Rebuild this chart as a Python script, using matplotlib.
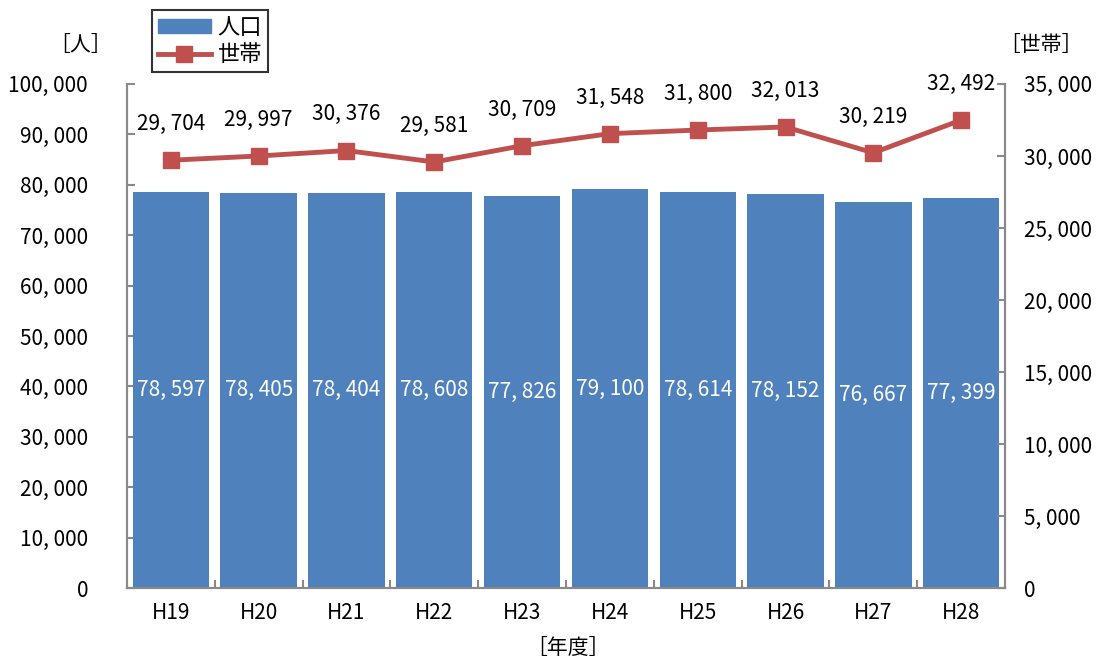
import matplotlib
matplotlib.use("Agg")
import matplotlib.pyplot as plt
from matplotlib.lines import Line2D
from matplotlib.patches import Patch

plt.rcParams["font.family"] = ["Noto Sans CJK JP", "DejaVu Sans"]

# 年度別 人口・世帯数
YEARS      = ["H19", "H20", "H21", "H22", "H23", "H24", "H25", "H26", "H27", "H28"]
POPULATION = [78597, 78405, 78404, 78608, 77826, 79100, 78614, 78152, 76667, 77399]
HOUSEHOLDS = [29704, 29997, 30376, 29581, 30709, 31548, 31800, 32013, 30219, 32492]

BAR_COLOR  = "#4F81BD"
LINE_COLOR = "#C0504D"
AXIS_COLOR = "#898989"
FS = 15


def fmt(v):
    return f"{v:,}".replace(",", ", ")


fig = plt.figure(figsize=(11.02, 6.61), dpi=100)
ax = fig.add_axes([0.1152, 0.1104, 0.7968, 0.7626])
ax2 = ax.twinx()

x = range(len(YEARS))
bars = ax.bar(x, POPULATION, width=0.87, color=BAR_COLOR, zorder=2)
for xi, v in zip(x, POPULATION):
    ax.text(xi, v / 2, fmt(v), ha="center", va="center",
            color="white", fontsize=FS)

ax2.plot(x, HOUSEHOLDS, color=LINE_COLOR, lw=3.5, marker="s",
         markersize=12, zorder=3)
for xi, v in zip(x, HOUSEHOLDS):
    ax2.text(xi, v + 1750, fmt(v), ha="center", va="bottom", fontsize=FS)

ax.set_xlim(-0.5, len(YEARS) - 0.5)
ax.set_ylim(0, 100000)
ax2.set_ylim(0, 35000)
ax.set_yticks(range(0, 100001, 10000))
ax.set_yticklabels([fmt(v) for v in range(0, 100001, 10000)], fontsize=FS)
ax2.set_yticks(range(0, 35001, 5000))
ax2.set_yticklabels([fmt(v) for v in range(0, 35001, 5000)], fontsize=FS)

ax.set_xticks(list(x))
ax.set_xticklabels(YEARS, fontsize=FS)
ax.tick_params(axis="x", length=0, pad=10)
# 区切り目盛り（カテゴリ間）
ax.set_xticks([i + 0.5 for i in range(len(YEARS) - 1)], minor=True)
ax.tick_params(axis="x", which="minor", direction="in", length=6,
               color=AXIS_COLOR, width=1.5)
ax.tick_params(axis="y", direction="in", length=6, color=AXIS_COLOR,
               width=1.5, pad=28)
ax2.tick_params(axis="y", direction="in", length=6, color=AXIS_COLOR,
                width=1.5, pad=14)

for a in (ax, ax2):
    a.spines["top"].set_visible(False)
    for s in ("left", "right", "bottom"):
        a.spines[s].set_color(AXIS_COLOR)
        a.spines[s].set_linewidth(1.5)

fig.text(0.073, 0.932, "［人］", ha="center", va="center", fontsize=FS)
fig.text(0.945, 0.932, "［世帯］", ha="center", va="center", fontsize=FS)
fig.text(0.515, 0.02, "［年度］", ha="center", va="center", fontsize=FS)

handles = [
    Patch(color=BAR_COLOR, label="人口"),
    Line2D([], [], color=LINE_COLOR, lw=3.5, marker="s", markersize=11,
           label="世帯"),
]
leg = fig.legend(handles=handles, loc="upper left",
                 bbox_to_anchor=(0.136, 0.988), fontsize=16,
                 frameon=True, fancybox=False, edgecolor="black",
                 handlelength=2.4, handleheight=0.6, labelspacing=0.2,
                 borderpad=0.25, handletextpad=0.3, borderaxespad=0.1)
leg.get_frame().set_linewidth(1.5)

fig.savefig("out.png", dpi=100)
